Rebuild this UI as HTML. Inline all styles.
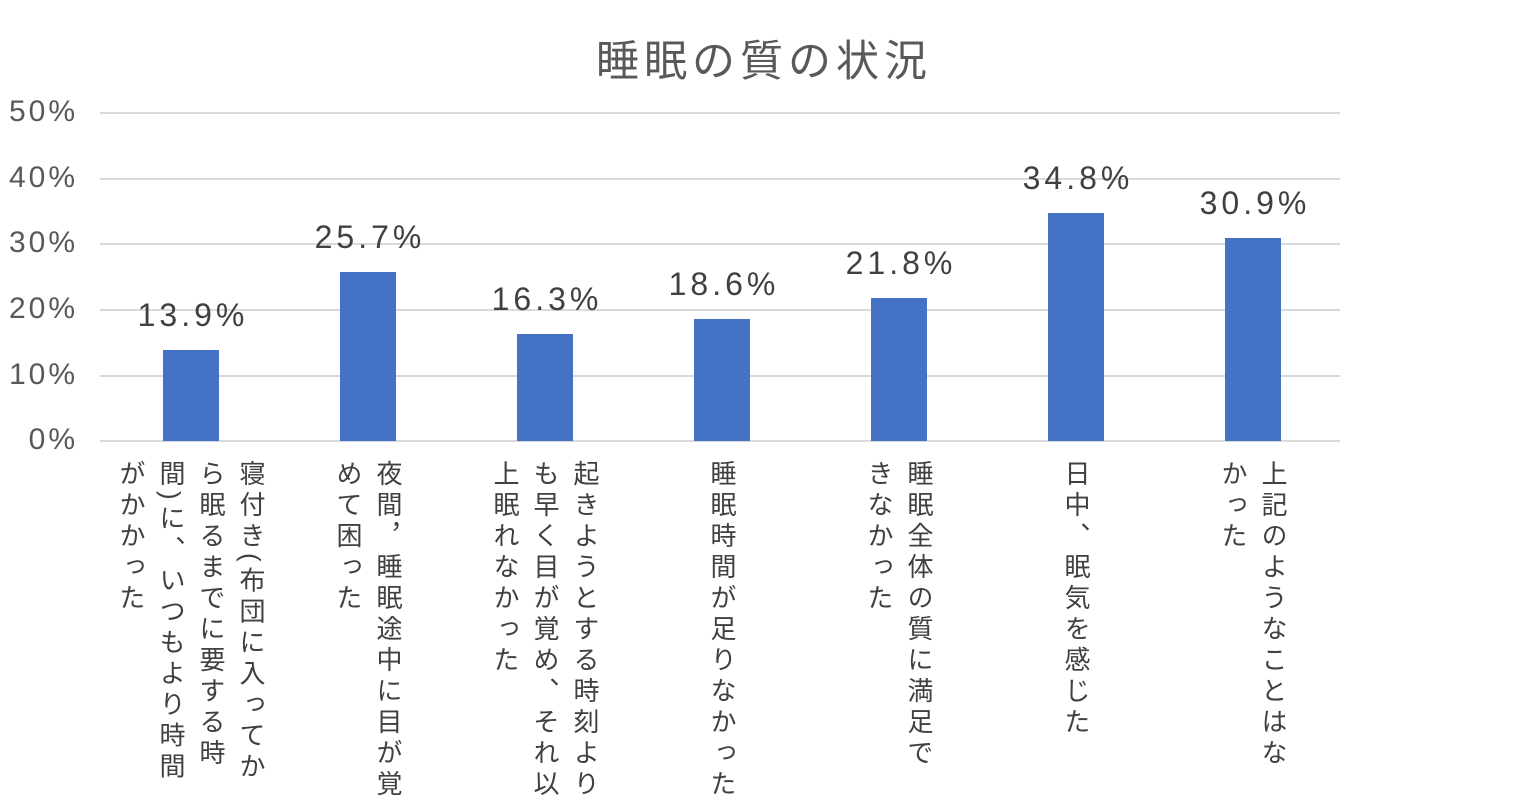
<!DOCTYPE html>
<html><head><meta charset="utf-8"><style>
body{margin:0;width:1528px;height:799px;background:#fff;position:relative;overflow:hidden;font-family:"Liberation Sans","Noto Sans CJK JP",sans-serif;color:#404040}
.t{position:absolute;left:0;width:1528px;text-align:center;top:27px;font-size:43px;letter-spacing:5px;color:#595959}
.g{position:absolute;left:100px;width:1240px;height:2px;background:#d9d9d9}
.y{position:absolute;left:0;width:78px;text-align:right;font-size:30px;letter-spacing:3px;color:#595959}
.b{position:absolute;width:56px;background:#4472c4}
.v{position:absolute;width:170px;text-align:center;font-size:32px;letter-spacing:4px;color:#404040}
.l{position:absolute;top:460px;writing-mode:vertical-rl;font-size:26px;line-height:40px;letter-spacing:5px;transform:translateX(-50%);white-space:nowrap;color:#404040}
</style></head><body>
<div class="t">睡眠の質の状況</div>
<div class="g" style="top:112px"></div><div class="g" style="top:178px"></div><div class="g" style="top:243px"></div><div class="g" style="top:309px"></div><div class="g" style="top:375px"></div><div class="g" style="top:440px"></div>
<div class="y" style="top:95px">50%</div><div class="y" style="top:161px">40%</div><div class="y" style="top:226px">30%</div><div class="y" style="top:292px">20%</div><div class="y" style="top:358px">10%</div><div class="y" style="top:423px">0%</div>
<div class="b" style="left:163px;top:350px;height:91px"></div>
<div class="b" style="left:340px;top:272px;height:169px"></div>
<div class="b" style="left:517px;top:334px;height:107px"></div>
<div class="b" style="left:694px;top:319px;height:122px"></div>
<div class="b" style="left:871px;top:298px;height:143px"></div>
<div class="b" style="left:1048px;top:213px;height:228px"></div>
<div class="b" style="left:1225px;top:238px;height:203px"></div>
<div class="v" style="left:108px;top:297px">13.9%</div>
<div class="v" style="left:285px;top:219px">25.7%</div>
<div class="v" style="left:462px;top:281px">16.3%</div>
<div class="v" style="left:639px;top:266px">18.6%</div>
<div class="v" style="left:816px;top:245px">21.8%</div>
<div class="v" style="left:993px;top:160px">34.8%</div>
<div class="v" style="left:1170px;top:185px">30.9%</div>
<div class="l" style="left:191px">寝付き(布団に入ってか<br>ら眠るまでに要する時<br>間)に、いつもより時間<br>がかかった</div>
<div class="l" style="left:368px">夜間，睡眠途中に目が覚<br>めて困った</div>
<div class="l" style="left:545px">起きようとする時刻より<br>も早く目が覚め、それ以<br>上眠れなかった</div>
<div class="l" style="left:722px">睡眠時間が足りなかった</div>
<div class="l" style="left:899px">睡眠全体の質に満足で<br>きなかった</div>
<div class="l" style="left:1076px">日中、眠気を感じた</div>
<div class="l" style="left:1253px">上記のようなことはな<br>かった</div>
</body></html>
